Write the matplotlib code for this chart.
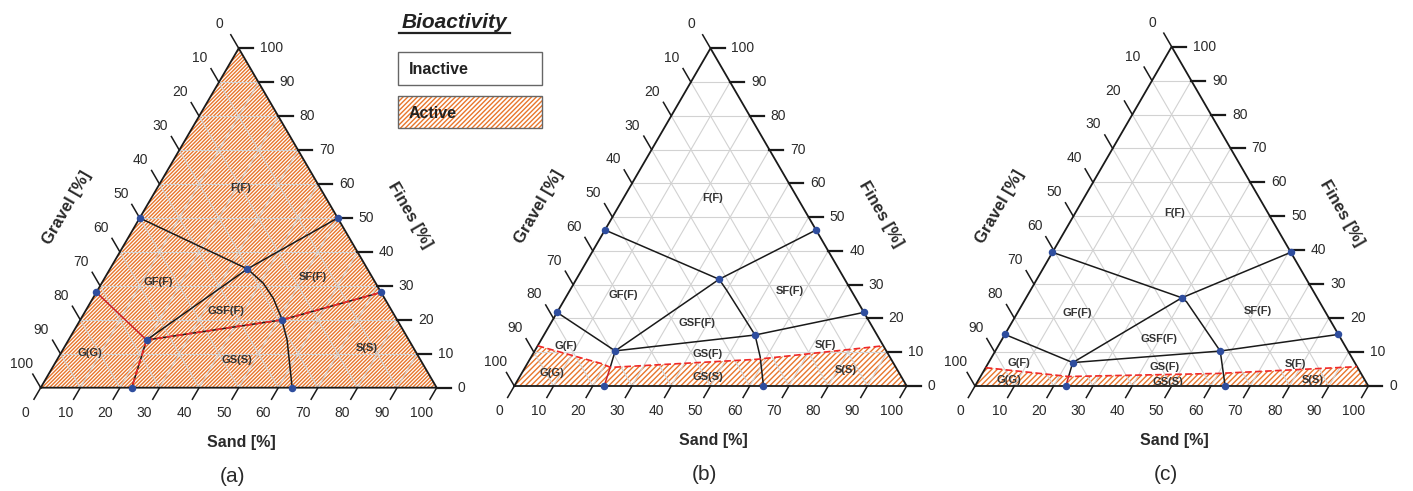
import numpy as np
import matplotlib
matplotlib.use("Agg")
import matplotlib.pyplot as plt
from matplotlib.patches import Polygon, Rectangle

plt.rcParams['font.family'] = ['Liberation Sans', 'DejaVu Sans']
plt.rcParams['hatch.linewidth'] = 1.0

# ---------------- data (sand %, fines %) ----------------
axis_ticks = list(range(0, 101, 10))
tick_labels = [str(t) for t in axis_ticks]
panel_labels = ['(a)', '(b)', '(c)']
legend_title = 'Bioactivity'
legend_items = ['Inactive', 'Active']

# panel (a)
a_black = [
    [(0, 50), (34.7, 35.0)],
    [(50, 50), (34.7, 35.0)],
    [(34.7, 35.0), (19.7, 14.05)],
    [(34.7, 35.0), (40.8, 30.8), (45.6, 26.3), (51.0, 20.0)],
    [(51.0, 20.0), (52.2, 18.2), (55.2, 14.05), (63.5, 0)],
]
a_red_solid = [[(0, 28.1), (19.7, 14.05)]]
a_red_dash = [
    [(19.7, 14.05), (23.0, 0)],
    [(19.7, 14.05), (51.0, 20.0), (71.9, 28.1)],
]
a_dots = [(0, 50), (50, 50), (34.7, 35.0), (0, 28.1), (19.7, 14.05),
          (51.0, 20.0), (71.9, 28.1), (23.0, 0), (63.5, 0)]
a_active = None  # whole triangle active
a_labels = [('F(F)', 21.1, 58.75), ('GF(F)', 14.1, 31.2), ('SF(F)', 52.3, 32.7),
            ('GSF(F)', 35.5, 22.6), ('G(G)', 7.4, 10.1), ('GS(S)', 45.4, 8.2),
            ('S(S)', 76.5, 11.6)]

# panel (b)
b_black = [
    [(0, 46.2), (36.4, 31.6)],
    [(53.8, 46.2), (36.4, 31.6)],
    [(36.4, 31.6), (20.5, 10.4)],
    [(36.4, 31.6), (39.9, 28.4), (53.8, 15.1)],
    [(53.8, 15.1), (58.3, 8.7), (63.5, 0)],
    [(0, 21.8), (20.5, 10.4)],
    [(20.5, 10.4), (53.8, 15.1), (78.2, 21.8)],
    [(20.5, 10.4), (21.7, 5.5)],
]
b_red_solid = [[(21.7, 5.5), (22.9, 0)]]
b_red_dash = [[(0, 11.9), (19.4, 6.5), (21.7, 5.5), (57.8, 7.9), (88.1, 11.9)]]
b_dots = [(0, 46.2), (53.8, 46.2), (36.4, 31.6), (0, 21.8), (20.5, 10.4),
          (53.8, 15.1), (78.2, 21.8), (22.9, 0), (63.5, 0)]
b_active = [(0, 11.9), (19.4, 6.5), (21.7, 5.5), (57.8, 7.9), (88.1, 11.9), (100, 0), (0, 0)]
b_labels = [('F(F)', 22.7, 55.6), ('GF(F)', 14.3, 26.9), ('SF(F)', 56.0, 28.2),
            ('GSF(F)', 37.2, 18.6), ('G(F)', 7.2, 11.9), ('G(G)', 7.6, 3.8),
            ('GS(F)', 44.5, 9.5), ('GS(S)', 47.9, 2.75), ('S(F)', 73.3, 12.1),
            ('S(S)', 82.2, 4.7)]

# panel (c)
c_black = [
    [(0, 39.4), (39.6, 26.0)],
    [(60.6, 39.4), (39.6, 26.0)],
    [(39.6, 26.0), (21.4, 6.9)],
    [(39.6, 26.0), (41.4, 24.8), (57.2, 10.3)],
    [(57.2, 10.3), (63.6, 0)],
    [(0, 15.2), (21.4, 6.9)],
    [(21.4, 6.9), (57.2, 10.3), (84.8, 15.2)],
    [(21.4, 6.9), (22.4, 2.8)],
]
c_red_solid = [[(22.4, 2.8), (23.1, 0)]]
c_red_dash = [[(0, 5.4), (22.4, 2.8), (60.0, 3.7), (94.3, 5.7)]]
c_dots = [(0, 39.4), (60.6, 39.4), (39.6, 26.0), (0, 15.2), (21.4, 6.9),
          (57.2, 10.3), (84.8, 15.2), (23.1, 0), (63.6, 0)]
c_active = [(0, 5.4), (22.4, 2.8), (60.0, 3.7), (94.3, 5.7), (100, 0), (0, 0)]
c_labels = [('F(F)', 25.2, 50.9), ('GF(F)', 15.4, 21.4), ('SF(F)', 60.9, 22.2),
            ('GSF(F)', 39.9, 13.8), ('G(F)', 7.85, 6.7), ('G(G)', 7.8, 1.8),
            ('GS(F)', 45.3, 5.7), ('GS(S)', 48.6, 1.1), ('S(F)', 78.1, 6.5),
            ('S(S)', 84.9, 1.8)]

# ---------------- styling / layout ----------------
W, H = 1413, 491
K = np.sqrt(3) / 2
ORANGE = '#E8762C'
BLUE = '#2E4D9E'
TXT = '#2a2a2a'
BOXES = [(40.7, 436.7, 387.7, 48.3), (514.3, 906.7, 386.0, 48.3), (975.0, 1368.3, 386.0, 46.7)]
HATCHES = ['/' * 9, '/' * 6, '/' * 6]


def xy(pts):
    arr = np.array(pts, dtype=float)
    s, f = arr[:, 0], arr[:, 1]
    return s + f / 2, f * K


fig = plt.figure(figsize=(W / 100, H / 100), dpi=100)

panels = [
    (a_black, a_red_solid, a_red_dash, a_dots, a_active, a_labels),
    (b_black, b_red_solid, b_red_dash, b_dots, b_active, b_labels),
    (c_black, c_red_solid, c_red_dash, c_dots, c_active, c_labels),
]

for i, (blk, rsol, rdash, dots, active, labels) in enumerate(panels):
    L, R, base, apex = BOXES[i]
    ax = fig.add_axes([L / W, (H - base) / H, (R - L) / W, (base - apex) / H])
    ax.set_xlim(0, 100)
    ax.set_ylim(0, 100 * K)
    ax.axis('off')

    # active (hatched) region
    if active is None:
        poly = [(0, 0), (100, 0), (0, 100)]
    else:
        poly = active
    px, py = xy(poly)
    ax.add_patch(Polygon(np.column_stack([px, py]), closed=True, facecolor='white',
                         edgecolor=ORANGE, lw=0, hatch=HATCHES[i], zorder=1))

    # grid
    for t in axis_ticks[1:-1]:
        for seg in ([(0, t), (100 - t, t)], [(t, 0), (t, 100 - t)], [(100 - t, 0), (0, 100 - t)]):
            gx, gy = xy(seg)
            ax.plot(gx, gy, color='#d2d2d2', lw=0.8, zorder=2, solid_capstyle='butt')

    # triangle
    tx, ty = xy([(0, 0), (100, 0), (0, 100), (0, 0)])
    ax.plot(tx, ty, color='#1a1a1a', lw=1.3, zorder=4, clip_on=False, solid_joinstyle='miter')

    # ticks and labels
    for t, lab in zip(axis_ticks, tick_labels):
        # gravel (left edge): gravel = t -> fines = 100 - t, sand = 0
        ex, ey = xy([(0, 100 - t)])
        ax.plot([ex[0], ex[0] - 2.0], [ey[0], ey[0] + 4.0 * K], color='#1a1a1a', lw=1.1, clip_on=False, zorder=4)
        ax.annotate(lab, (ex[0], ey[0]), xytext=(-19, 24), textcoords='offset pixels',
                    ha='center', va='center', fontsize=10, color=TXT, annotation_clip=False)
        # fines (right edge)
        ex, ey = xy([(100 - t, t)])
        ax.plot([ex[0], ex[0] + 3.6], [ey[0], ey[0]], color='#1a1a1a', lw=1.6, clip_on=False, zorder=4)
        ax.annotate(lab, (ex[0], ey[0]), xytext=(21, 0), textcoords='offset pixels',
                    ha='left', va='center', fontsize=10, color=TXT, annotation_clip=False)
        # sand (bottom edge)
        ex, ey = xy([(t, 0)])
        ax.plot([ex[0], ex[0] - 1.7], [ey[0], ey[0] - 3.4 * K], color='#1a1a1a', lw=1.1, clip_on=False, zorder=4)
        ax.annotate(lab, (ex[0], ey[0]), xytext=(-15, -25), textcoords='offset pixels',
                    ha='center', va='center', fontsize=10, color=TXT, annotation_clip=False)

    # axis titles
    ax.annotate('Gravel [%]', (25, 50 * K), xytext=(-73, 10), textcoords='offset pixels',
                ha='center', va='center', rotation=60, fontsize=12, fontweight='bold',
                color=TXT, annotation_clip=False)
    ax.annotate('Fines [%]', (75, 50 * K), xytext=(72, 3), textcoords='offset pixels',
                ha='center', va='center', rotation=-60, fontsize=12, fontweight='bold',
                color=TXT, annotation_clip=False)
    ax.annotate('Sand [%]', (50, 0), xytext=(3, -55), textcoords='offset pixels',
                ha='center', va='center', fontsize=11.5, fontweight='bold',
                color=TXT, annotation_clip=False)
    ax.annotate(panel_labels[i], (50, 0), xytext=(-6, -89), textcoords='offset pixels',
                ha='center', va='center', fontsize=15, color=TXT, annotation_clip=False)

    # boundaries
    for seg in blk:
        lx, ly = xy(seg)
        ax.plot(lx, ly, color='#1a1a1a', lw=1.1, zorder=5, clip_on=False)
    for seg in rsol:
        lx, ly = xy(seg)
        ax.plot(lx, ly, color='#c8202a', lw=1.1, zorder=6, clip_on=False)
    for seg in rdash:
        lx, ly = xy(seg)
        if i == 0:
            ax.plot(lx, ly, color='#1a1a1a', lw=1.1, zorder=5, clip_on=False)
        ax.plot(lx, ly, color='#f02828', lw=1.2, ls=(0, (4, 2)), zorder=6, clip_on=False)

    dx, dy = xy(dots)
    ax.plot(dx, dy, 'o', color=BLUE, ms=4.4, zorder=7, clip_on=False)

    for name, s, f in labels:
        lx, ly = xy([(s, f)])
        ax.text(lx[0], ly[0], name, ha='center', va='center', fontsize=8,
                fontweight='bold', color='#333333', zorder=8)

# ---------------- legend ----------------
lg = fig.add_axes([0, 0, 1, 1], zorder=10)
lg.set_xlim(0, W)
lg.set_ylim(H, 0)
lg.axis('off')
lg.patch.set_alpha(0)
lg.text(454.5, 22.5, legend_title, ha='center', va='center', fontsize=15,
        fontweight='bold', fontstyle='italic', color='#222222')
lg.plot([399, 510], [33, 33], color='#222222', lw=1.6)
lg.add_patch(Rectangle((397.7, 52.3), 144, 32.7, facecolor='white', edgecolor='#666666', lw=1.0))
lg.add_patch(Rectangle((397.7, 95.7), 144, 32.6, facecolor='white', edgecolor=ORANGE, lw=0,
                       hatch='/' * 7))
lg.add_patch(Rectangle((397.7, 95.7), 144, 32.6, facecolor='none', edgecolor='#666666', lw=1.0))
lg.text(409, 69.5, legend_items[0], ha='left', va='center', fontsize=11.5, fontweight='bold', color='#222222')
lg.text(409, 113, legend_items[1], ha='left', va='center', fontsize=11.5, fontweight='bold', color='#222222')

fig.savefig('out.png', dpi=100)
